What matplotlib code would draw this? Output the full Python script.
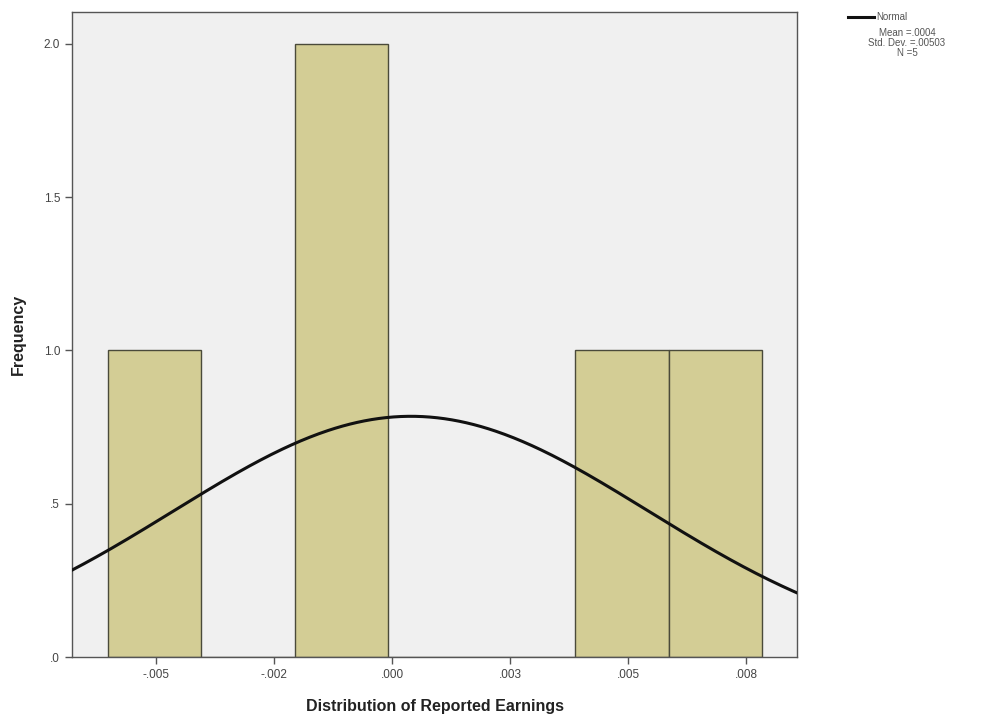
import numpy as np
import matplotlib.pyplot as plt

plt.rcParams['font.family'] = ['Liberation Sans', 'DejaVu Sans']

# ── Data ──────────────────────────────────────────────────────────────────────
bin_edges = [-0.00602, -0.00404, -0.00206, -0.00008, 0.00190, 0.00388, 0.00586, 0.00784]
counts    = [1, 0, 2, 0, 0, 1, 1]
mean, sd, n = 0.0004, 0.00503, 5
x_ticks   = [-0.005, -0.0025, 0.0, 0.0025, 0.005, 0.0075]
x_labels  = ['-.005', '-.002', '.000', '.003', '.005', '.008']
y_ticks   = [0, 0.5, 1.0, 1.5, 2.0]
y_labels  = ['.0', '.5', '1.0', '1.5', '2.0']

# ── Plot ──────────────────────────────────────────────────────────────────────
fig = plt.figure(figsize=(9.91, 7.16), dpi=100)
ax = fig.add_axes([0.0727, 0.0824, 0.7315, 0.9008])
ax.set_facecolor('#F0F0F0')

edges = np.array(bin_edges)
widths = np.diff(edges)
ax.bar(edges[:-1], counts, width=widths, align='edge',
       color='#D3CD95', edgecolor='#4A4A3A', linewidth=1.0, zorder=2)

# normal curve scaled to counts
bw = widths.mean()
xs = np.linspace(-0.0068, 0.0086, 400)
ys = n * bw / (sd * np.sqrt(2 * np.pi)) * np.exp(-0.5 * ((xs - mean) / sd) ** 2)
ax.plot(xs, ys, color='#111111', linewidth=2.2, zorder=3)

ax.set_xlim(-0.00678, 0.00858)
ax.set_ylim(0, 2.104)
ax.set_xticks(x_ticks)
ax.set_xticklabels(x_labels)
ax.set_yticks(y_ticks)
ax.set_yticklabels(y_labels)
ax.tick_params(direction='out', length=5, width=1, color='#555555',
               labelsize=8.5, labelcolor='#444444')
for sp in ax.spines.values():
    sp.set_color('#555555')
    sp.set_linewidth(1)

ax.set_xlabel('Distribution of Reported Earnings', fontsize=11.5,
              fontweight='bold', color='#222222', labelpad=13)
ax.set_ylabel('Frequency', fontsize=11.5, fontweight='bold',
              color='#222222', labelpad=13)

# legend / stats box outside plot
fig.add_artist(plt.Line2D([848 / 991, 874 / 991], [1 - 17 / 716, 1 - 17 / 716],
                          color='#111111', linewidth=2.2))
fig.text(876 / 991, 1 - 17 / 716, 'Normal', fontsize=7, color='#555555',
         ha='left', va='center')
fig.text(907 / 991, 1 - 43 / 716, 'Mean =.0004\nStd. Dev. =.00503\nN =5',
         fontsize=7, color='#555555', ha='center', va='center',
         linespacing=1.05)

plt.savefig('out.png', dpi=100, facecolor='white')
plt.close()
